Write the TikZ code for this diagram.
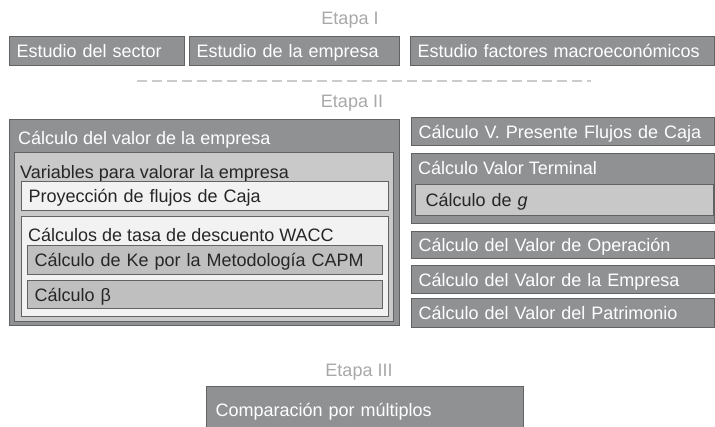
\documentclass[tikz,border=0pt]{standalone}
\usepackage{fontspec}
\setmainfont{Liberation Sans}
\definecolor{box-gray}{RGB}{143,145,147}
\definecolor{box-line}{RGB}{96,98,100}
\definecolor{mid-gray}{RGB}{201,201,201}
\definecolor{pale-gray}{RGB}{242,242,242}
\definecolor{etapa-gray}{RGB}{168,168,168}
\begin{document}
\begin{tikzpicture}[x=1pt, y=-1pt]
        \tikzstyle{base-box}=[draw=box-line, line width=1.2pt, anchor=north west, inner xsep=7pt, inner ysep=0pt, text height=13pt, text depth=0pt, align=left, font=\fontsize{18}{20}\selectfont]
        \tikzstyle{dark-box}=[base-box, fill=box-gray, text=white]
        \tikzstyle{mid-box}=[base-box, fill=mid-gray, text=black!85]
        \tikzstyle{pale-box}=[base-box, fill=pale-gray, text=black!85]
        \tikzstyle{title}=[anchor=base west, inner sep=0pt, font=\fontsize{18}{20}\selectfont]
        \tikzstyle{etapa}=[text=etapa-gray, inner sep=0pt, font=\fontsize{18}{20}\selectfont]

        \useasboundingbox (0, 0) rectangle (715, 427);

        % Etapa I
        \node[etapa] (etapa-1) at (350, 20) {Etapa I};
        \node[dark-box, text width=161pt, minimum height=29pt] (sector) at (9, 36) {Estudio del sector};
        \node[dark-box, text width=196pt, minimum height=29pt] (empresa) at (189, 36) {Estudio de la empresa};
        \node[dark-box, text width=290pt, minimum height=29pt] (macro) at (410, 36) {Estudio factores macroeconómicos};

        \coordinate (sep-left) at (137, 81);
        \coordinate (sep-right) at (591, 81);
        \draw[etapa-gray!60, line width=1.6pt, dash pattern=on 10pt off 5pt] (sep-left) -- (sep-right);

        % Etapa II, left block
        \node[etapa] (etapa-2) at (352, 103) {Etapa II};
        \node[dark-box, minimum width=390pt, minimum height=206pt] (valor-box) at (9, 119) {};
        \node[title, text=white] (valor) at (18, 145) {Cálculo del valor de la empresa};
        \node[mid-box, minimum width=379pt, minimum height=169pt] (variables-box) at (14, 152) {};
        \node[title, text=black!85] (variables) at (20, 179) {Variables para valorar la empresa};
        \node[pale-box, text width=353pt, minimum height=29pt] (flujos) at (21, 181) {Proyección de flujos de Caja};
        \node[pale-box, minimum width=367pt, minimum height=100pt] (wacc-box) at (21, 216) {};
        \node[title, text=black!85] (wacc) at (28, 242) {Cálculos de tasa de descuento WACC};
        \node[mid-box, fill=mid-gray!95!black, text width=341pt, minimum height=29pt] (capm) at (27, 245) {Cálculo de Ke por la Metodología CAPM};
        \node[mid-box, fill=mid-gray!95!black, text width=341pt, minimum height=28pt] (beta) at (27, 280) {Cálculo β};

        % Etapa II, right column
        \node[dark-box, text width=289pt, minimum height=28pt] (presente) at (411, 117) {Cálculo V. Presente Flujos de Caja};
        \node[dark-box, minimum width=303pt, minimum height=70pt] (terminal-box) at (411, 153) {};
        \node[title, text=white] (terminal) at (418, 175) {Cálculo Valor Terminal};
        \node[mid-box, fill=mid-gray!102, inner xsep=10pt, text width=278pt, minimum height=31pt] (crecimiento) at (415, 184) {Cálculo de \textit{g}};
        \node[dark-box, text width=289pt, minimum height=27pt] (operacion) at (411, 231) {Cálculo del Valor de Operación};
        \node[dark-box, text width=289pt, minimum height=28pt] (valor-empresa) at (411, 265) {Cálculo del Valor de la Empresa};
        \node[dark-box, text width=289pt, minimum height=29pt] (patrimonio) at (411, 298) {Cálculo del Valor del Patrimonio};

        % Etapa III
        \node[etapa] (etapa-3) at (359, 372) {Etapa III};
        \node[dark-box, inner xsep=9pt, text width=299pt, minimum height=46pt] (multiplos) at (206, 386) {Comparación por múltiplos};
    \end{tikzpicture}
\end{document}
